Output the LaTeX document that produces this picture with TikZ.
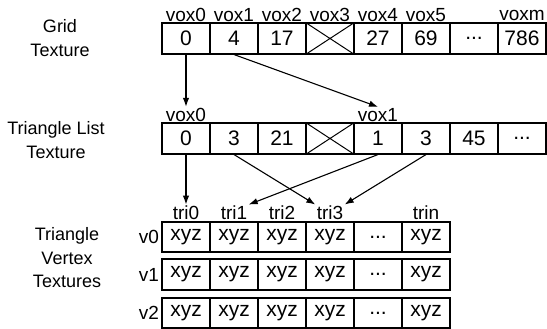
\documentclass[tikz,border=0pt]{standalone}
\usepackage{fontspec}
\setmainfont{Liberation Sans}
\usepackage{tikz}
\usetikzlibrary{arrows.meta}
\newcommand\dotcell{...}

\begin{document}
\begin{tikzpicture}[x=1pt,y=1pt,line width=1pt,
  every node/.style={font=\fontsize{19pt}{23.5pt}\selectfont,inner sep=1pt},
  cell/.style={draw,line width=1.1pt,minimum width=48pt,minimum height=31pt,inner sep=0pt,
    font=\fontsize{21pt}{24pt}\selectfont},
  caption/.style={align=center,font=\fontsize{18pt}{23.5pt}\selectfont},
  frame/.style={line width=1.8pt},
  arr/.style={-{Latex[length=9pt,width=6.5pt]},line width=1.1pt}]
  \useasboundingbox (0,0) rectangle (547,329);
  % grid texture
  \foreach \t [count=\i from 0] in {0,4,17,,27,69,\dotcell,786}
    \node[cell] (g\i) at (186+48*\i,290.5) {\t};
  \draw (g3.north west) -- (g3.south east) (g3.south west) -- (g3.north east);
  \draw[frame] (g0.north west) rectangle (g7.south east);
  \foreach \i in {0,...,5}
    \node (a\i) at (186+48*\i,314) {vox\i};
  \node (a7) at (522,314) {voxm};
  % triangle list texture
  \foreach \t [count=\i from 0] in {0,3,21,,1,3,45,\dotcell}
    \node[cell] (t\i) at (186+48*\i,190.5) {\t};
  \draw (t3.north west) -- (t3.south east) (t3.south west) -- (t3.north east);
  \draw[frame] (t0.north west) rectangle (t7.south east);
  \node (h0) at (186,214) {vox0};
  \node (h4) at (378,214) {vox1};
  % triangle vertex textures
  \foreach \r/\y in {0/92,1/54.5,2/16} {
    \foreach \t [count=\i from 0] in {xyz,xyz,xyz,xyz,\dotcell,xyz}
      \node[cell,minimum height=30pt] (v\r\i) at (186+48*\i,\y) {\t};
    \draw[frame] (v\r0.north west) rectangle (v\r5.south east);
    \node[left=1pt] (n\r) at (v\r0.west) {v\r};
  }
  \foreach \i in {0,...,3}
    \node (r\i) at (186+48*\i,116) {tri\i};
  \node (r5) at (426,116) {trin};
  % left captions
  \node[caption] (grid) at (60,291) {Grid\\Texture};
  \node[caption] (list) at (56,189) {Triangle List\\Texture};
  \node[caption] (vert) at (67,71) {Triangle\\Vertex\\Textures};
  % pointers
  \draw[arr] (g0.south) -- (h0.north);
  \draw[arr] (g1.south) -- (h4.north);
  \draw[arr] (t0.south) -- (r0.north);
  \draw[arr] (t1.south) -- (r3.north west);
  \draw[arr] (t4.south) -- (r1.north east);
  \draw[arr] (t5.south) -- (r3.north east);
\end{tikzpicture}
\end{document}
